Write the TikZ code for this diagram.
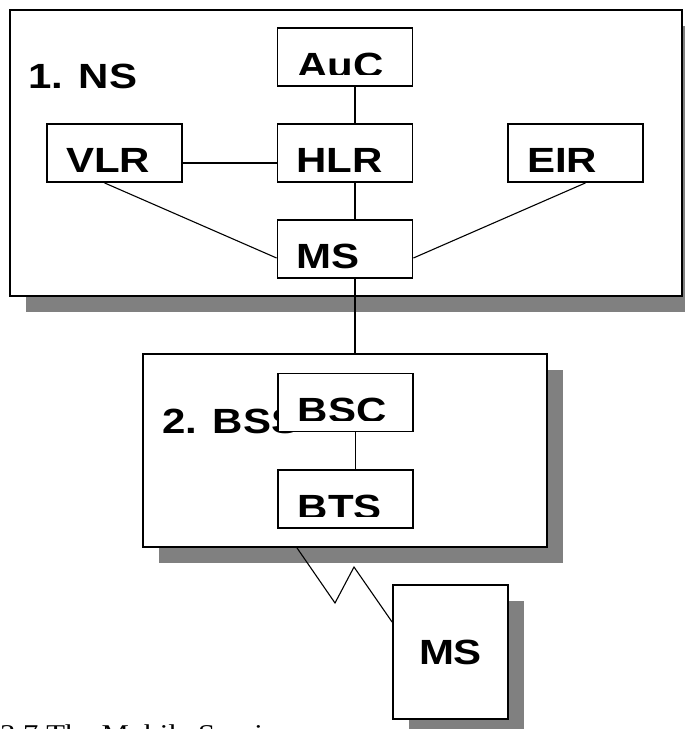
\documentclass[tikz,border=0pt]{standalone}
\usepackage{fontspec}
\usetikzlibrary{shadows}
\newfontfamily\labelfont[FakeStretch=1.2]{Liberation Sans}
\newfontfamily\captionfont[FakeStretch=1.2]{Liberation Serif}
\newcommand{\lab}{\labelfont\bfseries\fontsize{35}{36}\selectfont}
\tikzset{
	zone/.style={draw, fill=white, line width=1.8pt, inner sep=0pt, drop shadow={shadow xshift=16pt, shadow yshift=-16pt, fill=gray, opacity=1}},
	box/.style={draw, fill=white, line width=1.8pt, inner sep=0pt, inner xsep=19pt, text width=97pt, align=left, text height=48pt, text depth=10pt, font=\lab},
	cutbox/.style={draw, fill=white, line width=1.8pt, minimum width=135pt, minimum height=58pt, inner sep=0pt, path picture={
		\clip ([yshift=-46.5pt]path picture bounding box.north west) rectangle (path picture bounding box.north east);
		\node[anchor=base west, inner sep=0pt, minimum width=0pt, minimum height=0pt, draw=none, fill=none, font=\lab] at ([xshift=19pt,yshift=-49pt]path picture bounding box.north west) {#1};}},
	link/.style={line width=1.1pt}
}
\begin{document}
\begin{tikzpicture}[x=1pt, y=-1pt]
		\useasboundingbox (0,0) rectangle (685,729);
		\clip (0,0) rectangle (685,729);
			\node (Ns) at (346,153) [zone, minimum width=672pt, minimum height=286pt] {};
			\node (Nt) at (28,88) [anchor=base west, inner sep=0pt, font=\lab] {1. NS};
			\node (Au) at (345,57) [cutbox=AuC] {};
			\node (Hl) at (345,153) [box] {HLR};
			\node (Vl) at (114.5,153) [box] {VLR};
			\node (Ei) at (575.5,153) [box] {EIR};
			\node (Ms) at (345,249) [box] {MS};
			\draw[link] ([xshift=10pt]Au.south) -- ([xshift=10pt]Hl.north);
			\draw[link] ([yshift=-10pt]Vl.east) -- ([yshift=-10pt]Hl.west);
			\draw[link] ([xshift=10pt]Hl.south) -- ([xshift=10pt]Ms.north);
			\draw[link] ([xshift=-10pt]Vl.south) -- ([yshift=-9pt]Ms.west);
			\draw[link] ([xshift=10pt]Ei.south) -- ([yshift=-9pt]Ms.east);
			\node (Bs) at (345,450.5) [zone, minimum width=404pt, minimum height=193pt] {};
			\node (Bn) at (162,433) [anchor=base west, inner sep=0pt, font=\lab] {2. BSS};
			\node (Bc) at (345.5,402.5) [cutbox=BSC] {};
			\node (Bt) at (345.5,499) [cutbox=BTS] {};
			\draw[link] ([xshift=10pt]Ms.south) -- ([xshift=10pt]Bs.north);
			\draw[link] ([xshift=10pt]Bc.south) -- ([xshift=10pt]Bt.north);
			\node (Mo) at (450.5,652) [zone, minimum width=115pt, minimum height=134pt, font=\lab] {MS};
			\draw[link] ([xshift=-48pt]Bs.south) -- (335,603) -- (354,567) -- ([yshift=30pt]Mo.west);
			\node (Cp) at (0,742) [anchor=base west, inner sep=0pt, font=\captionfont\fontsize{25.6}{28}\selectfont] {3.7 The Mobile Services};
\end{tikzpicture}
\end{document}
